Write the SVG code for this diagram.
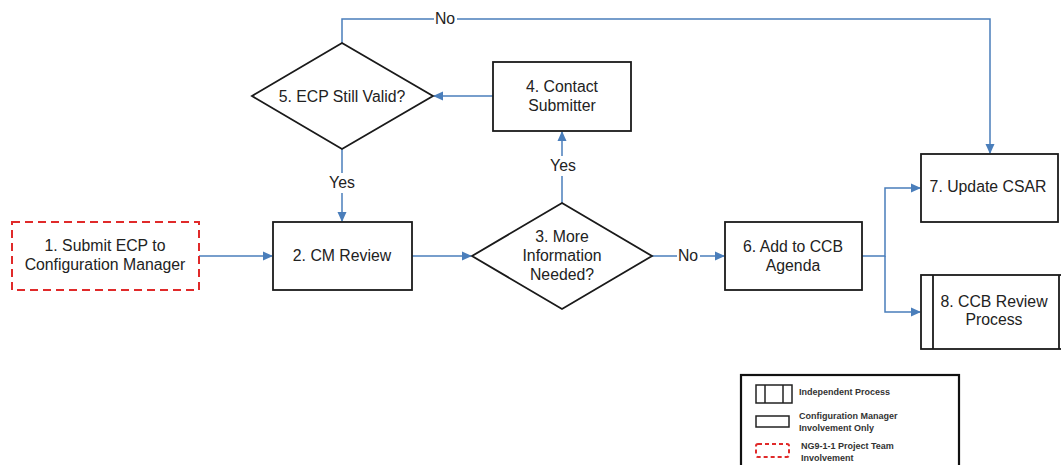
<svg xmlns="http://www.w3.org/2000/svg" width="1061" height="465" viewBox="0 0 1061 465">
<style>
.box{fill:#fff;stroke:#1a1a1a;stroke-width:1.8}
.dash{fill:#fff;stroke:#e02a2a;stroke-width:2;stroke-dasharray:8,5}
.t{font-family:"Liberation Sans",Arial,sans-serif;font-size:15.8px;fill:#222;text-anchor:middle}
.lbl{font-family:"Liberation Sans",Arial,sans-serif;font-size:15.8px;fill:#222;text-anchor:middle}
.c{fill:none;stroke:#4a7ebb;stroke-width:1.5}
.lg{font-family:"Liberation Sans",Arial,sans-serif;font-size:9px;font-weight:bold;fill:#333}
</style>
<defs>
<marker id="ar" markerWidth="10" markerHeight="10" refX="9" refY="5" orient="auto" markerUnits="userSpaceOnUse">
<path d="M0,0.5 L10,5 L0,9.5 Z" fill="#4a7ebb"/>
</marker>
</defs>
<rect width="1061" height="465" fill="#fff"/>
<g id="connectors">
<path class="c" d="M199,256 H272" marker-end="url(#ar)"/>
<path class="c" d="M412,256 H471" marker-end="url(#ar)"/>
<path class="c" d="M652,256 H724" marker-end="url(#ar)"/>
<path class="c" d="M562,203 V132" marker-end="url(#ar)"/>
<path class="c" d="M493,96 H434" marker-end="url(#ar)"/>
<path class="c" d="M342,149 V221" marker-end="url(#ar)"/>
<path class="c" d="M342,43 V19 H990 V153" marker-end="url(#ar)"/>
<path class="c" d="M862,256 H885 V188 H920" marker-end="url(#ar)"/>
<path class="c" d="M885,256 V312 H920" marker-end="url(#ar)"/>
<rect x="677" y="247" width="23" height="18" fill="#fff"/>
<text class="lbl" x="688" y="261">No</text>
<rect x="434" y="10" width="23" height="18" fill="#fff"/>
<text class="lbl" x="445" y="24">No</text>
<rect x="547" y="156" width="32" height="20" fill="#fff"/>
<text class="lbl" x="563" y="171">Yes</text>
<rect x="326" y="173" width="32" height="20" fill="#fff"/>
<text class="lbl" x="342" y="188">Yes</text>
</g>
<g id="n1">
<rect class="dash" x="12" y="222" width="187" height="68"/>
<text class="t" x="105" y="251">1. Submit ECP to</text>
<text class="t" x="105" y="270">Configuration Manager</text>
</g>
<g id="n2">
<rect class="box" x="273" y="222" width="139" height="68"/>
<text class="t" x="342" y="261">2. CM Review</text>
</g>
<g id="n3">
<polygon class="box" points="562,203 652,256 562,309 472,256"/>
<text class="t" x="562" y="242">3. More</text>
<text class="t" x="562" y="261">Information</text>
<text class="t" x="562" y="280">Needed?</text>
</g>
<g id="n4">
<rect class="box" x="493" y="62" width="138" height="69"/>
<text class="t" x="562" y="92">4. Contact</text>
<text class="t" x="562" y="111">Submitter</text>
</g>
<g id="n5">
<polygon class="box" points="342,43 433,96 342,149 252,96"/>
<text class="t" x="342" y="102">5. ECP Still Valid?</text>
</g>
<g id="n6">
<rect class="box" x="725" y="222" width="137" height="68"/>
<text class="t" x="793" y="252">6. Add to CCB</text>
<text class="t" x="793" y="271">Agenda</text>
</g>
<g id="n7">
<rect class="box" x="921" y="154" width="137" height="68"/>
<text class="t" x="988" y="192">7. Update CSAR</text>
</g>
<g id="n8">
<rect class="box" x="921" y="275" width="150" height="74"/>
<line x1="933" y1="275" x2="933" y2="349" stroke="#1a1a1a" stroke-width="1.8"/>
<line x1="1059" y1="275" x2="1059" y2="349" stroke="#1a1a1a" stroke-width="1.8"/>
<text class="t" x="994" y="307">8. CCB Review</text>
<text class="t" x="994" y="325">Process</text>
</g>
<g id="legend">
<rect x="741" y="375" width="218" height="100" fill="#fff" stroke="#111" stroke-width="2.2"/>
<rect x="756" y="385" width="36" height="18" fill="#fff" stroke="#222" stroke-width="1.5"/>
<line x1="765" y1="385" x2="765" y2="403" stroke="#222" stroke-width="1.5"/>
<line x1="783" y1="385" x2="783" y2="403" stroke="#222" stroke-width="1.5"/>
<text class="lg" x="799" y="395">Independent Process</text>
<rect x="756" y="416" width="33" height="11" fill="#fff" stroke="#222" stroke-width="1.5"/>
<text class="lg" x="799" y="419">Configuration Manager</text>
<text class="lg" x="799" y="431">Involvement Only</text>
<rect x="756" y="444" width="33" height="13" rx="2" fill="#fff" stroke="#e02a2a" stroke-width="2" stroke-dasharray="4,3"/>
<text class="lg" x="801" y="449">NG9-1-1 Project Team</text>
<text class="lg" x="801" y="461">Involvement</text>
</g>
</svg>
